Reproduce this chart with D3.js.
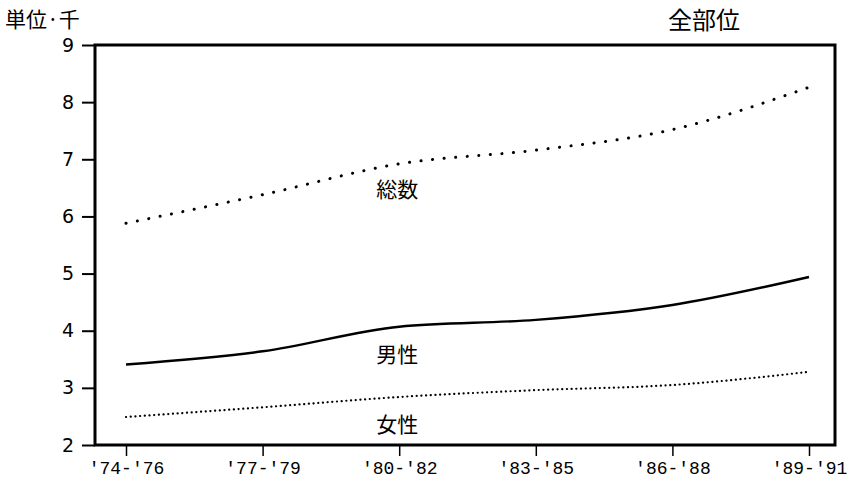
<!DOCTYPE html>
<html><head><meta charset="utf-8">
<script src="https://cdn.jsdelivr.net/npm/d3@7"></script>
<style>html,body{margin:0;padding:0;background:#fff;}</style>
</head><body>
<svg id="c" width="848" height="482"></svg>
<script>
const periods = ["'74-'76","'77-'79","'80-'82","'83-'85","'86-'88","'89-'91"];
const tickLabels = ["'74-'76","'77-'79","'80-'82","'83-'85","'86-'88","'89-'91"];
const totalVals  = [5.88, 6.38, 6.92, 7.16, 7.52, 8.26];
const maleVals   = [3.41, 3.64, 4.07, 4.19, 4.45, 4.94];
const femaleVals = [2.49, 2.66, 2.84, 2.96, 3.05, 3.28];
const yTicks = [2,3,4,5,6,7,8,9];
const seriesNames = ["総数","男性","女性"];
const unitLabel = "単位·千";
const siteLabel = "全部位";

const svg = d3.select("#c");
const L = 95, R = 835, T = 45, B = 445;
const x = d3.scalePoint().domain(periods).range([126, 809]);
const y = d3.scaleLinear().domain([2, 9]).range([B, T]);

// frame
svg.append("rect").attr("x", L).attr("y", T).attr("width", R - L).attr("height", B - T)
  .attr("fill", "none").attr("stroke", "#000").attr("stroke-width", 3);

// y axis
const ya = svg.append("g").attr("transform", `translate(${L},0)`)
  .call(d3.axisLeft(y).tickValues(yTicks).tickSize(13).tickPadding(8).tickFormat(d3.format("d")));
ya.select(".domain").remove();
ya.selectAll("line").attr("stroke", "#000").attr("stroke-width", 2);
ya.selectAll("text").attr("font-family", "DejaVu Sans, sans-serif").attr("font-size", 19).attr("fill", "#000");

// x axis
const xa = svg.append("g").attr("transform", `translate(0,${B})`)
  .call(d3.axisBottom(x).tickSize(11).tickPadding(5).tickFormat((d, i) => tickLabels[i]));
xa.select(".domain").remove();
xa.selectAll("line").attr("stroke", "#000").attr("stroke-width", 1.5);
xa.selectAll("text").attr("font-family", "Liberation Mono, monospace").attr("font-size", 18).attr("fill", "#000");

const line = d3.line().x((d, i) => x(periods[i])).y(d => y(d)).curve(d3.curveMonotoneX);

svg.append("path").datum(totalVals).attr("d", line).attr("fill", "none")
  .attr("stroke", "#000").attr("stroke-width", 3).attr("stroke-linecap", "round")
  .attr("stroke-dasharray", "0.1 11.5");
svg.append("path").datum(maleVals).attr("d", line).attr("fill", "none")
  .attr("stroke", "#000").attr("stroke-width", 2.4);
svg.append("path").datum(femaleVals).attr("d", line).attr("fill", "none")
  .attr("stroke", "#000").attr("stroke-width", 2.2).attr("stroke-linecap", "round")
  .attr("stroke-dasharray", "0.1 4.6");

const jp = "Noto Sans CJK JP, sans-serif";
const labelPos = [6.34, 3.45, 2.23];
seriesNames.forEach((n, i) => {
  svg.append("text").attr("x", x(periods[2]) - 2).attr("y", y(labelPos[i]))
    .attr("text-anchor", "middle").attr("font-family", jp).attr("font-size", 21)
    .attr("fill", "#000").text(n);
});

svg.append("text").attr("x", 5).attr("y", 27).attr("font-family", jp).attr("font-size", 21)
  .attr("fill", "#000").text(unitLabel);
svg.append("text").attr("x", 668).attr("y", 29).attr("font-family", jp).attr("font-size", 24)
  .attr("fill", "#000").text(siteLabel);
</script>
</body></html>
